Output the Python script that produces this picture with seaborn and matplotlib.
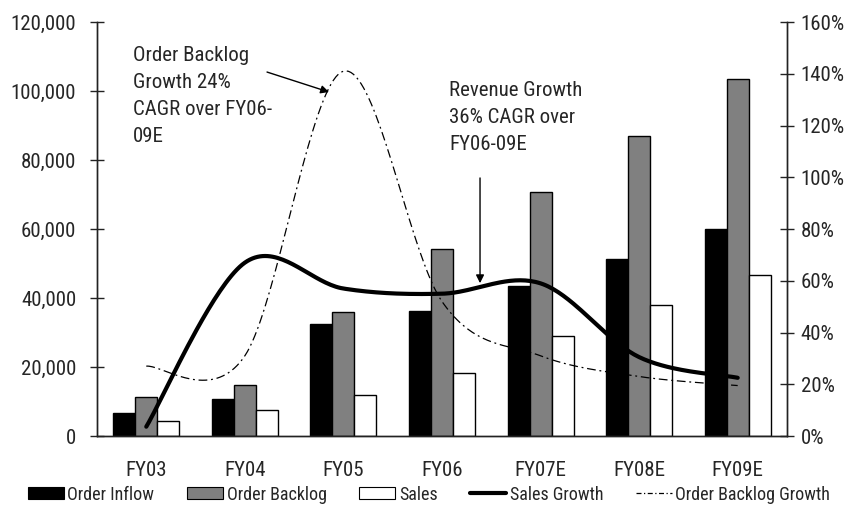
import numpy as np
import pandas as pd
import matplotlib
matplotlib.use("Agg")
import matplotlib.pyplot as plt
from matplotlib.patches import Patch
from matplotlib.lines import Line2D
from matplotlib.ticker import FuncFormatter, MultipleLocator, FixedLocator
import seaborn as sns

years = ["FY03", "FY04", "FY05", "FY06", "FY07E", "FY08E", "FY09E"]
order_inflow = [6700, 10700, 32400, 36300, 43500, 51300, 60100]
order_backlog = [11400, 14900, 35900, 54200, 70800, 87000, 103600]
sales = [4400, 7500, 11800, 18300, 29100, 38000, 46700]
sales_growth = [3.6, 67.0, 57.0, 55.0, 59.0, 30.5, 22.5]
backlog_growth = [27.0, 31.0, 141.0, 52.0, 31.0, 23.0, 19.5]

sns.set_theme(style="white")
plt.rcParams["font.family"] = ["Roboto Condensed", "Archivo Narrow", "PT Sans Narrow",
                               "Liberation Sans Narrow", "Liberation Sans", "DejaVu Sans"]
FS = 15
LEG_FS = 13

df = pd.DataFrame({
    "year": years * 3,
    "value": order_inflow + order_backlog + sales,
    "series": ["Order Inflow"] * 7 + ["Order Backlog"] * 7 + ["Sales"] * 7,
})

fig = plt.figure(figsize=(8.53, 5.05), dpi=100)
ax = fig.add_axes([0.1137, 0.1366, 0.8089, 0.8198])

bar_colors = ["#000000", "#808080", "#ffffff"]
sns.barplot(data=df, x="year", y="value", hue="series", palette=bar_colors,
            width=0.67, edgecolor="black", linewidth=1.0, saturation=1,
            legend=False, ax=ax)

ax.set_xlim(-0.5, 6.5)
ax.set_ylim(0, 120000)
ax.yaxis.set_major_locator(MultipleLocator(20000))
ax.yaxis.set_major_formatter(FuncFormatter(lambda v, p: f"{int(v):,}"))
ax.set_xlabel("")
ax.set_ylabel("")

# category boundary ticks on the x axis
ax.xaxis.set_major_locator(FixedLocator(range(7)))
ax.set_xticklabels(years)
ax.xaxis.set_minor_locator(FixedLocator(np.arange(-0.5, 7.0, 1.0)))
ax.tick_params(axis="x", which="major", length=0, pad=18, labelsize=FS)
ax.tick_params(axis="x", which="minor", direction="inout", length=10, width=1, color="#222222")
ax.tick_params(axis="y", direction="inout", length=10, width=1, color="#222222",
               labelsize=FS, pad=10, left=True)

for s in ["left", "bottom", "right"]:
    ax.spines[s].set_color("#222222")
    ax.spines[s].set_linewidth(1.0)
ax.spines["top"].set_visible(False)

# secondary axis for growth rates
ax2 = ax.twinx()
ax2.set_ylim(0, 160)
ax2.yaxis.set_major_locator(MultipleLocator(20))
ax2.yaxis.set_major_formatter(FuncFormatter(lambda v, p: f"{int(v)}%"))
ax2.tick_params(axis="y", direction="inout", length=10, width=1, color="#222222",
                labelsize=FS, pad=5, right=True)
for s in ["left", "bottom", "right"]:
    ax2.spines[s].set_color("#222222")
    ax2.spines[s].set_linewidth(1.0)
ax2.spines["top"].set_visible(False)
ax2.grid(False)
ax.grid(False)


def smooth(xs, ys, n=40):
    """Bezier smoothing through every point (spreadsheet-style smoothed line)."""
    xs = np.asarray(xs, float)
    ys = np.asarray(ys, float)
    pts = np.column_stack([xs, ys])
    out = []
    for i in range(len(pts) - 1):
        p0 = pts[i - 1] if i > 0 else pts[i]
        p1 = pts[i]
        p2 = pts[i + 1]
        p3 = pts[i + 2] if i + 2 < len(pts) else pts[i + 1]
        c1 = p1 + (p2 - p0) / 6.0
        c2 = p2 - (p3 - p1) / 6.0
        t = np.linspace(0, 1, n)[:, None]
        seg = ((1 - t) ** 3) * p1 + 3 * ((1 - t) ** 2) * t * c1 + 3 * (1 - t) * t ** 2 * c2 + t ** 3 * p2
        out.append(seg if i == 0 else seg[1:])
    seg = np.vstack(out)
    return seg[:, 0], seg[:, 1]


xpos = np.arange(len(years))
sx, sy = smooth(xpos, sales_growth)
ax2.plot(sx, sy, color="black", lw=3.0, solid_capstyle="round")
bx, by = smooth(xpos, backlog_growth)
ax2.plot(bx, by, color="black", lw=0.9, dashes=(7, 3, 1.5, 3))

# annotations
ax.text(-0.135, 113000, "Order Backlog\nGrowth 24%\nCAGR over FY06-\n09E",
        fontsize=FS, va="top", ha="left", linespacing=1.52)
ax.annotate("", xy=(1.854, 99700), xytext=(1.225, 105500),
            arrowprops=dict(arrowstyle="-|>", color="black", lw=1.0,
                            mutation_scale=12, shrinkA=0, shrinkB=0))
ax.text(3.071, 102800, "Revenue Growth\n36% CAGR over\nFY06-09E",
        fontsize=FS, va="top", ha="left", linespacing=1.52)
ax.annotate("", xy=(3.386, 44300), xytext=(3.386, 74800),
            arrowprops=dict(arrowstyle="-|>", color="black", lw=1.0,
                            mutation_scale=12, shrinkA=0, shrinkB=0))

handles = [
    Patch(facecolor="#000000", edgecolor="black", linewidth=0.8),
    Patch(facecolor="#808080", edgecolor="black", linewidth=0.8),
    Patch(facecolor="#ffffff", edgecolor="black", linewidth=0.8),
    Line2D([], [], color="black", lw=3.0),
    Line2D([], [], color="black", lw=0.9, dashes=(4, 2, 1, 2)),
]
labels = ["Order Inflow", "Order Backlog", "Sales", "Sales Growth", "Order Backlog Growth"]
fig.legend(handles, labels, loc="lower left", bbox_to_anchor=(0.026, -0.008), ncol=5,
           frameon=False, fontsize=LEG_FS, handlelength=2.0, handleheight=0.65,
           handletextpad=0.2, columnspacing=1.8, borderaxespad=0, borderpad=0.3)

fig.savefig("out.png", dpi=100)
